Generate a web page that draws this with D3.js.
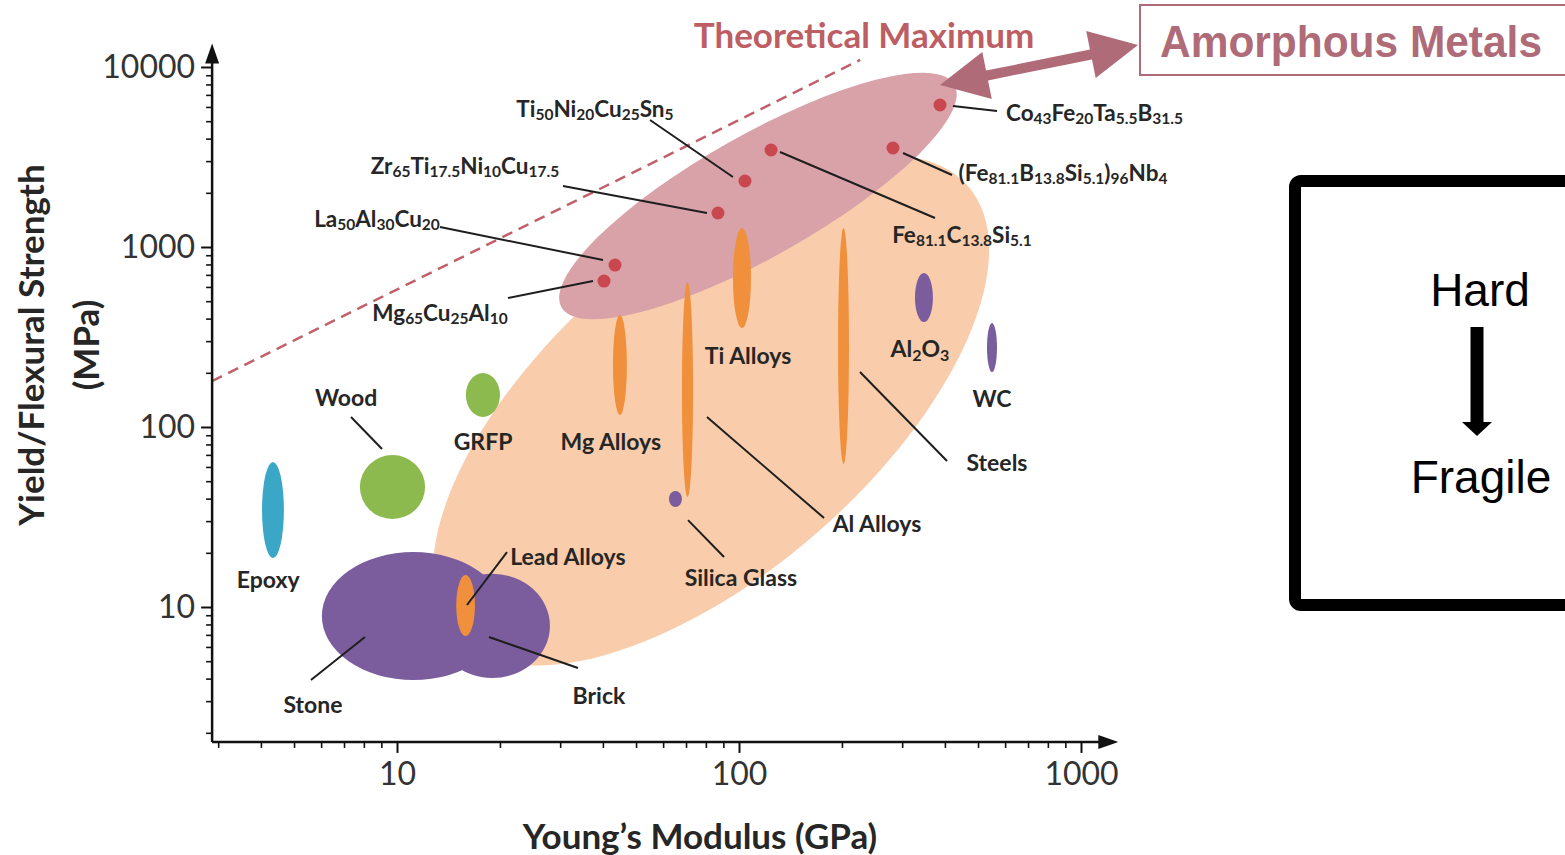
<!DOCTYPE html>
<html><head><meta charset="utf-8">
<script src="https://cdn.jsdelivr.net/npm/d3@7"></script>
<style>
html,body{margin:0;padding:0;background:#fff;}
svg{display:block;}
</style></head><body>
<svg id="chart" width="1565" height="855"></svg>
<script>
// ================= DATA =================
// Axis ticks
const xTickLabels = [10, 100, 1000];
const yTickLabels = [10, 100, 1000, 10000];
const xAxisExtent = [2.88, 1260];      // GPa
const yAxisExtent = [1.78, 13000];     // MPa

// Axis-aligned material regions: Young's modulus range (GPa), strength range (MPa)
const regionNames = ["Stone","Brick","Epoxy","Wood","GRFP","Lead Alloys","Mg Alloys","Al Alloys","Silica Glass","Ti Alloys","Steels","Al_{2}O_{3}","WC"];
const regionClass = ["ceramic","ceramic","polymer","natural","natural","metal","metal","metal","ceramic","metal","metal","ceramic","ceramic"];
const regionE = [[6.03,20.7],[12.9,28.0],[4.03,4.67],[7.79,12.08],[15.9,20.0],[14.9,16.9],[42.8,47.0],[68.1,73.4],[62.4,68.1],[96.0,108.4],[194.8,209.7],[327,369],[531,568]];
const regionS = [[3.93,20.2],[4.03,15.3],[18.7,63.9],[30.8,69.9],[113.6,199.5],[6.9,15.06],[116.6,419],[40.8,639],[35.9,44.1],[354.8,1275],[62.3,1275],[383,717],[202,378]];
// Label centre (E, strength)
const regionLabelE = [5.68, 38.96, 4.20, 7.10, 17.85, 31.6, 42.2, 253.2, 101.3, 106.3, 568, 338, 549];
const regionLabelS = [2.89, 3.24, 14.3, 146.8, 83.6, 19.2, 83.6, 29.3, 14.7, 251, 63.9, 274.7, 144.9];
// Leader lines [[E1,S1],[E2,S2]] or null
const regionLeaders = [
  [[5.603,3.93],[8.06,6.81]],
  [[18.58,6.81],[33.82,4.58]],
  null,
  [[7.337,113.6],[9.04,75.5]],
  null,
  [[16.02,10.26],[20.97,20.2]],
  null,
  [[80.6,113.6],[177.3,31.2]],
  [[70.95,30.4],[90.4,18.96]],
  null,
  [[225.8,202.1],[405.7,64.7]],
  null,
  null
];

// Rotated envelopes: major-axis end points (E, strength) and minor/major ratio
const envelopeNames = ["Metals", "Amorphous Metals"];
const envelopeE = [[14.7, 467], [30.25, 426.6]];
const envelopeS = [[7.03, 2182], [463, 7962]];
const envelopeRatio = [0.475, 0.27];

// Amorphous alloys (points)
const alloyNames = ["Mg_{65}Cu_{25}Al_{10}","La_{50}Al_{30}Cu_{20}","Zr_{65}Ti_{17.5}Ni_{10}Cu_{17.5}","Ti_{50}Ni_{20}Cu_{25}Sn_{5}","Fe_{81.1}C_{13.8}Si_{5.1}","(Fe_{81.1}B_{13.8}Si_{5.1})_{96}Nb_{4}","Co_{43}Fe_{20}Ta_{5.5}B_{31.5}"];
const alloyE = [40.3, 43.4, 86.8, 104.1, 124.1, 282, 387];
const alloyS = [647, 794, 1545, 2326, 3458, 3548, 6150];
const alloyLabelE = [13.36, 8.74, 15.8, 37.9, 448.7, 886, 1095];
const alloyLabelS = [435.5, 1449, 2855, 5920, 1181, 2610, 5623];
const alloyLeaders = [
  [[37.42,647.2],[21.11,520.8]],
  [[40.03,846.7],[13.36,1291.5]],
  [[80.6,1545],[30.58,2182]],
  [[96.0,2448],[54.93,5077]],
  [[131.8,3372],[374.2,1449]],
  [[301.7,3329],[419.6,2512]],
  [[422.4,6072],[568.1,5695]]
];

// Theoretical maximum line
const theoryE = [2.88, 226];
const theoryS = [180, 10940];
const theoryLabel = "Theoretical Maximum";
// Amorphous arrow tip in data space
const amorphousTip = [387, 7943];

// ================= STYLE =================
const classColor = {ceramic:"#7b5d9d", metal:"#f0903c", polymer:"#3ba7c6", natural:"#8dba4e"};
const envelopeColor = ["#f9cdab", "#d9a2a8"];
const dotColor = "#c9474f";
const mauve = "#b06b78";
const labelFont = "Lato, 'Open Sans', sans-serif";

// ================= CHART =================
const svg = d3.select("#chart");
const x = d3.scaleLog().domain([10, 1000]).range([397, 1081]);
const y = d3.scaleLog().domain([10, 10000]).range([607, 67]);
const P = (e, s) => [x(e), y(s)];

// envelopes
envelopeNames.forEach((n, i) => {
  const p1 = P(envelopeE[i][0], envelopeS[i][0]);
  const p2 = P(envelopeE[i][1], envelopeS[i][1]);
  const cx = (p1[0]+p2[0])/2, cy = (p1[1]+p2[1])/2;
  const a = Math.hypot(p2[0]-p1[0], p2[1]-p1[1]) / 2;
  const ang = Math.atan2(p2[1]-p1[1], p2[0]-p1[0]) * 180 / Math.PI;
  svg.append("ellipse").attr("cx", cx).attr("cy", cy).attr("rx", a).attr("ry", a*envelopeRatio[i])
    .attr("transform", `rotate(${ang} ${cx} ${cy})`).attr("fill", envelopeColor[i]);
});

// theoretical maximum dashed line
svg.append("line")
  .attr("x1", x(theoryE[0])).attr("y1", y(theoryS[0]))
  .attr("x2", x(theoryE[1])).attr("y2", y(theoryS[1]))
  .attr("stroke", "#c0616a").attr("stroke-width", 2.5).attr("stroke-dasharray", "11,7");

// regions
regionNames.forEach((n, i) => {
  const x0 = x(regionE[i][0]), x1 = x(regionE[i][1]);
  const y0 = y(regionS[i][1]), y1 = y(regionS[i][0]);
  svg.append("ellipse").attr("cx", (x0+x1)/2).attr("cy", (y0+y1)/2)
    .attr("rx", (x1-x0)/2).attr("ry", (y1-y0)/2)
    .attr("fill", classColor[regionClass[i]]);
});

// alloy dots
alloyE.forEach((e, i) => {
  svg.append("circle").attr("cx", x(e)).attr("cy", y(alloyS[i])).attr("r", 6.5).attr("fill", dotColor);
});

// leader lines
const leaderG = svg.append("g").attr("stroke", "#1e1e1e").attr("stroke-width", 2);
regionLeaders.concat(alloyLeaders).forEach(l => {
  if (!l) return;
  leaderG.append("line").attr("x1", x(l[0][0])).attr("y1", y(l[0][1])).attr("x2", x(l[1][0])).attr("y2", y(l[1][1]));
});

// text with subscripts
function richText(sel, str, size, subSize) {
  const parts = str.split(/(_\{[^}]*\})/).filter(s => s.length);
  let shifted = false;
  parts.forEach(p => {
    if (p.startsWith("_{")) {
      sel.append("tspan").attr("font-size", subSize).attr("dy", shifted ? 0 : size*0.28).text(p.slice(2, -1));
      shifted = true;
    } else {
      sel.append("tspan").attr("font-size", size).attr("dy", shifted ? -size*0.28 : 0).text(p);
      shifted = false;
    }
  });
}

regionNames.forEach((n, i) => {
  const t = svg.append("text").attr("x", x(regionLabelE[i])).attr("y", y(regionLabelS[i]))
    .attr("text-anchor", "middle").attr("dominant-baseline", "central")
    .attr("font-family", labelFont).attr("font-weight", 700).attr("fill", "#262626");
  richText(t, n, 23, 16);
});
alloyNames.forEach((n, i) => {
  const t = svg.append("text").attr("x", x(alloyLabelE[i])).attr("y", y(alloyLabelS[i]))
    .attr("text-anchor", "middle").attr("dominant-baseline", "central")
    .attr("font-family", labelFont).attr("font-weight", 700).attr("fill", "#262626");
  richText(t, n, 22.5, 15.5);
});

// axes
const axisColor = "#111";
const xMin = x(xAxisExtent[0]), xMax = x(xAxisExtent[1]);
const yMin = y(yAxisExtent[0]), yMax = y(yAxisExtent[1]);

const yMinor = d3.scaleLog().domain(yAxisExtent).ticks().filter(v => !yTickLabels.includes(v));
const xMinor = d3.scaleLog().domain(xAxisExtent).ticks().filter(v => !xTickLabels.includes(v));

const gy = svg.append("g").attr("transform", `translate(${xMin},0)`);
gy.call(d3.axisLeft(y).tickValues(yMinor).tickSize(6).tickFormat(""));
gy.selectAll(".tick line").attr("stroke-width", 1.6).attr("stroke", axisColor);
const gy2 = svg.append("g").attr("transform", `translate(${xMin},0)`);
gy2.call(d3.axisLeft(y).tickValues(yTickLabels).tickSize(11).tickPadding(6).tickFormat(d3.format("d")));
gy2.selectAll(".tick line").attr("stroke-width", 2).attr("stroke", axisColor);
gy2.selectAll(".tick text").attr("font-family", labelFont).attr("font-size", 32).attr("fill", "#333");

const gx = svg.append("g").attr("transform", `translate(0,${yMin})`);
gx.call(d3.axisBottom(x).tickValues(xMinor).tickSize(6).tickFormat(""));
gx.selectAll(".tick line").attr("stroke-width", 1.6).attr("stroke", axisColor);
const gx2 = svg.append("g").attr("transform", `translate(0,${yMin})`);
gx2.call(d3.axisBottom(x).tickValues(xTickLabels).tickSize(11).tickPadding(9).tickFormat(d3.format("d")));
gx2.selectAll(".tick line").attr("stroke-width", 2).attr("stroke", axisColor);
gx2.selectAll(".tick text").attr("font-family", labelFont).attr("font-size", 32).attr("fill", "#333");
svg.selectAll(".domain").remove();

// axis lines + arrows
svg.append("line").attr("x1", xMin).attr("y1", yMin).attr("x2", xMin).attr("y2", yMax + 14)
  .attr("stroke", axisColor).attr("stroke-width", 2.5);
svg.append("path").attr("d", `M${xMin},${yMax-3} L${xMin-7},${yMax+17} L${xMin+7},${yMax+17} Z`).attr("fill", axisColor);
svg.append("line").attr("x1", xMin).attr("y1", yMin).attr("x2", xMax - 14).attr("y2", yMin)
  .attr("stroke", axisColor).attr("stroke-width", 2.5);
svg.append("path").attr("d", `M${xMax+3},${yMin} L${xMax-17},${yMin-7} L${xMax-17},${yMin+7} Z`).attr("fill", axisColor);

// axis titles
svg.append("text").attr("x", 700).attr("y", 835).attr("text-anchor", "middle").attr("dominant-baseline", "central")
  .attr("font-family", labelFont).attr("font-weight", 700).attr("font-size", 35).attr("fill", "#262626")
  .text("Young\u2019s Modulus (GPa)");
svg.append("text").attr("transform", "translate(30,345) rotate(-90)").attr("text-anchor", "middle").attr("dominant-baseline", "central")
  .attr("font-family", labelFont).attr("font-weight", 700).attr("font-size", 35).attr("fill", "#262626")
  .text("Yield/Flexural Strength");
svg.append("text").attr("transform", "translate(85,345) rotate(-90)").attr("text-anchor", "middle").attr("dominant-baseline", "central")
  .attr("font-family", labelFont).attr("font-weight", 700).attr("font-size", 35).attr("fill", "#262626")
  .text("(MPa)");

// Theoretical maximum label
svg.append("text").attr("x", 864).attr("y", 34).attr("text-anchor", "middle").attr("dominant-baseline", "central")
  .attr("font-family", labelFont).attr("font-weight", 700).attr("font-size", 35).attr("fill", "#bd5d64")
  .text(theoryLabel);

// Amorphous Metals box
svg.append("rect").attr("x", 1140).attr("y", 5).attr("width", 440).attr("height", 70)
  .attr("fill", "#fff").attr("stroke", mauve).attr("stroke-width", 2);
svg.append("text").attr("x", 1351).attr("y", 41).attr("text-anchor", "middle").attr("dominant-baseline", "central")
  .attr("font-family", "'Liberation Sans', Arial, sans-serif").attr("font-weight", 700).attr("font-size", 44)
  .attr("textLength", 382).attr("lengthAdjust", "spacingAndGlyphs").attr("fill", mauve)
  .text("Amorphous Metals");

// Double arrow
(function() {
  const A = P(amorphousTip[0], amorphousTip[1]);
  const B = [1138, 45];
  const dx = B[0]-A[0], dy = B[1]-A[1], len = Math.hypot(dx, dy);
  const u = [dx/len, dy/len], n = [-u[1], u[0]];
  const L = 48, hw = 24, w = 5;
  const pt = (p, a, b) => [p[0] + u[0]*a + n[0]*b, p[1] + u[1]*a + n[1]*b];
  const pts = [A, pt(A, L, hw), pt(A, L, w), pt(B, -L, w), pt(B, -L, hw), B, pt(B, -L, -hw), pt(B, -L, -w), pt(A, L, -w), pt(A, L, -hw)];
  svg.append("path").attr("d", "M" + pts.map(p => p.join(",")).join("L") + "Z").attr("fill", mauve);
})();

// Hard / Fragile box
svg.append("rect").attr("x", 1295).attr("y", 181).attr("width", 320).attr("height", 424).attr("rx", 6)
  .attr("fill", "none").attr("stroke", "#000").attr("stroke-width", 12);
svg.append("text").attr("x", 1480).attr("y", 306).attr("text-anchor", "middle")
  .attr("font-family", "'Liberation Sans', Arial, sans-serif").attr("font-size", 46).attr("fill", "#000").text("Hard");
svg.append("rect").attr("x", 1470.5).attr("y", 327).attr("width", 13).attr("height", 96).attr("fill", "#000");
svg.append("path").attr("d", "M1462,422 L1492,422 L1477,436 Z").attr("fill", "#000");
svg.append("text").attr("x", 1481).attr("y", 493).attr("text-anchor", "middle")
  .attr("font-family", "'Liberation Sans', Arial, sans-serif").attr("font-size", 46).attr("fill", "#000").text("Fragile");
</script>
</body></html>
